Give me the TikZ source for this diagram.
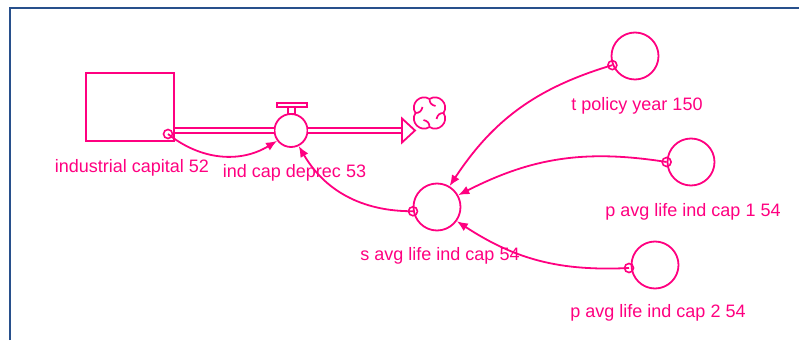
\documentclass[tikz,border=0pt]{standalone}
\usepackage{fontspec}
\setmainfont{Liberation Sans}
\usetikzlibrary{arrows.meta,positioning}
\definecolor{vpink}{RGB}{255,0,128}
\definecolor{frameblue}{RGB}{40,80,140}

\begin{document}
\begin{tikzpicture}[x=1pt, y=1pt, font=\fontsize{18}{21}\selectfont, >={Latex[length=11pt,width=9pt]},
  aux/.style={circle, draw=vpink, line width=1.8pt, minimum size=47pt, inner sep=0pt},
  tail/.style={circle, draw=vpink, line width=1.6pt, minimum size=9pt, inner sep=0pt},
  link/.style={draw=vpink, line width=1.8pt, ->},
  pipe/.style={draw=vpink, double, double distance=3.6pt, line width=1.7pt},
  lbl/.style={text=vpink, anchor=base}]
  \useasboundingbox (0,0) rectangle (799,340);
  % frame
  \draw[frameblue, line width=2pt] (10.3,0) -- (10.3,332) -- (799,332);
  % stock, valve and sink
  \node[draw=vpink, line width=1.8pt, minimum width=88pt, minimum height=68pt, inner sep=0pt] (cap) at (130,233) {};
  \node[circle, draw=vpink, line width=1.8pt, minimum size=33pt, inner sep=0pt, fill=white] (deprec) at (291,209.5) {};
  \coordinate (sinkin) at (402,209.5);
  \draw[pipe] (cap.east |- deprec) -- (deprec.west);
  \draw[pipe] (deprec.east) -- (sinkin);
  \draw[vpink, line width=1.8pt, fill=white] (402,221.5) -- (415,209.5) -- (402,197.5) -- cycle;
  \draw[vpink, line width=1.6pt, fill=white] (288,226) rectangle (295,233);
  \draw[vpink, line width=1.6pt, fill=white] (277,233) rectangle (307,237);
  \begin{scope}[shift={(429.5,227)}, vpink, line width=1.7pt]
    \draw (0,14) .. controls (9,20) and (20,9) .. (14,0)
      .. controls (20,-9) and (9,-20) .. (0,-14)
      .. controls (-9,-20) and (-20,-9) .. (-14,0)
      .. controls (-20,9) and (-9,20) .. cycle;
    \foreach \a in {0,90,180,270}
      \draw[rotate=\a] (14,0) .. controls (10,0) and (8,-2) .. (7,-6);
  \end{scope}
  % auxiliaries
  \node[aux] (savg) at (437,133) {};
  \node[aux] (tpol) at (635,284) {};
  \node[aux] (pone) at (691,178) {};
  \node[aux] (ptwo) at (655,75) {};
  % connector tails
  \node[tail] (capm) at (168,206) {};
  \node[tail] (savgm) at (savg.190) {};
  \node[tail] (tpolm) at (tpol.202) {};
  \node[tail] (ponem) at (pone.180) {};
  \node[tail] (ptwom) at (629,72) {};
  % connectors
  \draw[link] (capm.center) to[bend right=35] (deprec);
  \draw[link] (savgm.center) to[bend left=30] (deprec);
  \draw[link] (tpolm.center) to[bend right=20] (savg);
  \draw[link] (ponem.center) to[bend right=18] (savg);
  \draw[link] (ptwom.center) to[bend left=18] (savg);
  % labels
  \node[lbl] (caplbl) at (132,167.3) {industrial capital 52};
  \node[lbl] (deplbl) at (294.5,162.5) {ind cap deprec 53};
  \node[lbl] (savglbl) at (440,80) {s avg life ind cap 54};
  \node[lbl] (tpollbl) at (637,229.5) {t policy year 150};
  \node[lbl] (ponelbl) at (693,124) {p avg life ind cap 1 54};
  \node[lbl] (ptwolbl) at (658,22.5) {p avg life ind cap 2 54};
\end{tikzpicture}
\end{document}
